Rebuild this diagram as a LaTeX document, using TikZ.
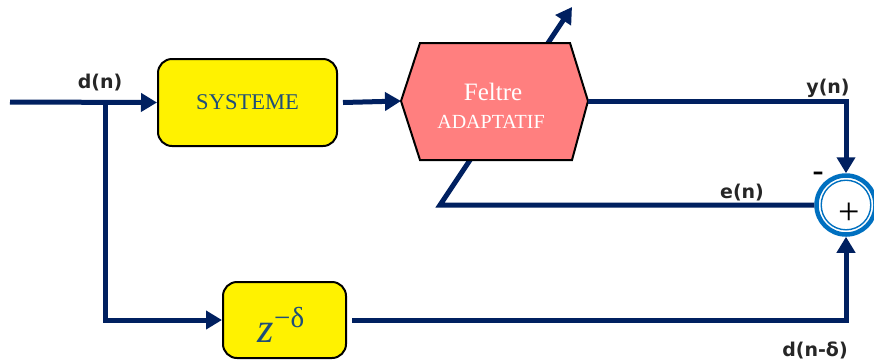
\documentclass[tikz,border=0pt]{standalone}
\usepackage{fontspec}
\setmainfont{Liberation Serif}
\newfontfamily\lblfont{DejaVu Sans}
\usetikzlibrary{arrows.meta}
\definecolor{navy}{HTML}{002060}
\definecolor{boxtext}{HTML}{1F4E79}
\definecolor{ringblue}{HTML}{0070C0}
\definecolor{salmon}{HTML}{FF7F7F}
\newcommand{\delayop}{{\fontsize{42}{42}\selectfont\itshape z}%
  \raisebox{15pt}{\fontsize{29}{29}\selectfont −δ}}

\begin{document}
\begin{tikzpicture}[x=1pt,y=-1pt,
  sig/.style={draw=navy, line width=5pt},
  sigarrow/.style={sig, -{Triangle[length=16pt,width=18pt]}},
  yellowbox/.style={draw=black, line width=2pt, fill=yellow,
    rounded corners=14pt, inner sep=0pt, text=boxtext},
  lbl/.style={font=\lblfont\bfseries\fontsize{19}{20}\selectfont, text=black!85},
  filttext/.style={text=white, anchor=base, inner sep=0pt}]
\useasboundingbox (0,0) rectangle (874,360);

% blocks
\node[yellowbox, minimum width=179pt, minimum height=87pt,
      font=\fontsize{22.5}{24}\selectfont] (sys) at (247.5,102.5) {SYSTEME};
\node[yellowbox, minimum width=123pt, minimum height=76pt] (zbox) at (284.5,320) {};
\node[text=boxtext, anchor=base, inner sep=0pt] (zop) at (281,342) {\delayop};

% summing junction
\node[circle, draw=ringblue, line width=4.5pt, minimum size=59pt,
      inner sep=0pt] (sum) at (846,205) {};
\draw[ringblue, line width=1.4pt] (sum.center) circle (24.8pt);
\node[font=\fontsize{38}{38}\selectfont, text=black] (plus) at (849,214) {+};
\node[font=\lblfont\bfseries\fontsize{22}{22}\selectfont, text=black] (minus) at (818,176) {–};

% adaptation path: error line folding back under the filter
\coordinate (adjfoot) at (440,205);
\coordinate (adjtip) at (572,7);
\draw[sigarrow] (sum.west) -- (adjfoot) -- (adjtip);

% adaptive filter (hexagon)
\coordinate (hL) at (401,101);
\coordinate (hR) at (588,101);
\draw[draw=black, line width=2pt, fill=salmon]
  (hL) -- (420,43) -- (570,43) -- (hR) -- (572,160) -- (420,160) -- cycle;
\node[filttext, font=\fontsize{25}{27}\selectfont] (filtA) at (493,100) {Feltre};
\node[filttext, font=\fontsize{20}{22}\selectfont] (filtB) at (491,128) {ADAPTATIF};

% signal connections
\coordinate (in) at (10,102);
\coordinate (br) at (105,102);
\draw[sigarrow] (in) -- (sys.west);
\draw[sigarrow] (br) -- (br |- zbox.west) -- (zbox.west);
\draw[sigarrow] ([xshift=5pt]sys.east) -- (hL);
\draw[sigarrow] (hR) -- (hR -| sum.north) -- (sum.north);
\draw[sigarrow] ([xshift=5pt]zbox.east) -- (zbox.east -| sum.south) -- (sum.south);

% signal labels
\node[lbl] (ldn) at (100,83) {d(n)};
\node[lbl] (lyn) at (828,88) {y(n)};
\node[lbl] (len) at (742,193) {e(n)};
\node[lbl] (ldd) at (815,350) {d(n-δ)};
\end{tikzpicture}
\end{document}
